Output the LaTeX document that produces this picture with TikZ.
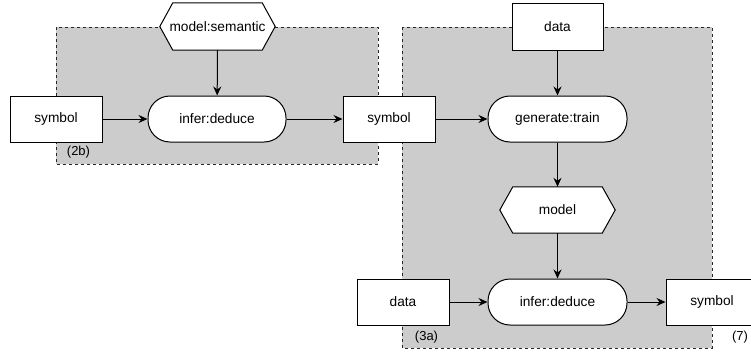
\documentclass[tikz,border=0pt]{standalone}
\usepackage{fontspec}
\setmainfont{Liberation Sans}
\usetikzlibrary{arrows.meta}
\definecolor{groupgray}{HTML}{CCCCCC}
\pgfdeclarelayer{grouplayer}
\pgfdeclarelayer{shapelayer}
\pgfsetlayers{grouplayer,shapelayer,main}
\tikzset{
  x=1pt, y=-1pt,
  every node/.style={font=\fontsize{13.7}{16}\selectfont, inner sep=0pt},
  box/.style={draw, fill=white, line width=1pt, minimum width=92pt, minimum height=46pt},
  proc/.style={draw, fill=white, line width=1pt, minimum width=139pt, minimum height=46pt, rounded corners=22pt},
  hexbox/.style={minimum width=115pt, minimum height=47pt},
  hexline/.style={draw, fill=white, line width=1pt, line join=miter},
  group/.style={draw=black!85, fill=groupgray, dashed, line width=0.8pt},
  conn/.style={-{Stealth[length=9pt,width=8pt,inset=3pt]}, line width=1pt},
  tag/.style={font=\fontsize{13}{15}\selectfont}
}
\newcommand{\hexpath}[1]{%
  \begin{pgfonlayer}{shapelayer}
  \path[hexline] ([xshift=13pt]#1.north west) -- ([xshift=-13pt]#1.north east) -- (#1.east)
    -- ([xshift=-13pt]#1.south east) -- ([xshift=13pt]#1.south west) -- (#1.west) -- cycle;
  \end{pgfonlayer}}
\begin{document}
\begin{tikzpicture}
\useasboundingbox (0,0) rectangle (751,351);
% groups
\begin{pgfonlayer}{grouplayer}
\fill[white] (0,0) rectangle (751,351);
\path[group] (56,27) rectangle (378,164);
\path[group] (402,27) rectangle (712,348);
\end{pgfonlayer}
% nodes
\node[hexbox] (hexA) at (217.5,26.5) {model:semantic};
\hexpath{hexA}
\node[box] (symL) at (56,119) {symbol};
\node[proc, minimum width=138pt] (inferA) at (217,119) {infer:deduce};
\node[box] (symM) at (389,119) {symbol};
\node[box, minimum width=91pt, minimum height=47pt] (dataT) at (557.5,26.5) {data};
\node[proc] (gen) at (557.5,119) {generate:train};
\node[hexbox, minimum height=46pt] (model) at (557.5,210) {model};
\hexpath{model}
\node[box] (dataB) at (403,302) {data};
\node[proc] (inferB) at (557.5,302) {infer:deduce};
\node[box] (symR) at (712,302) {symbol};
% tags
\node[tag] (t2b) at (78.5,152) {(2b)};
\node[tag] (t3a) at (426.5,337) {(3a)};
\node[tag] (t7) at (740,337) {(7)};
% connectors
\draw[conn] (hexA.south) -- (inferA);
\draw[conn] (symL) -- (inferA);
\draw[conn] (inferA) -- (symM);
\draw[conn] (symM) -- (gen);
\draw[conn] (dataT) -- (gen);
\draw[conn] (gen) -- (model.north);
\draw[conn] (model.south) -- (inferB);
\draw[conn] (dataB) -- (inferB);
\draw[conn] (inferB) -- (symR);
\end{tikzpicture}
\end{document}
